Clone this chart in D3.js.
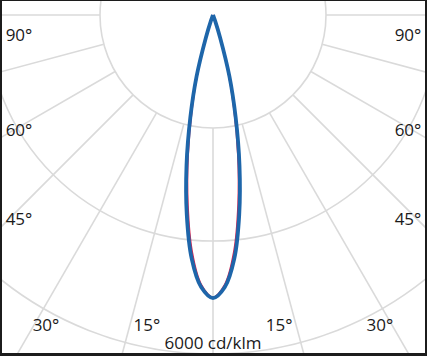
<!DOCTYPE html>
<html><head><meta charset="utf-8">
<script src="https://cdn.jsdelivr.net/npm/d3@7"></script>
<style>html,body{margin:0;padding:0;background:#fff;}svg{display:block;}</style>
</head><body>
<script>
// ---- data ----
const gammaAngles = [0, 2.5, 5, 7.5, 10, 12.5, 15, 17.5, 20, 22.5, 25, 30, 40, 50, 60, 70, 80, 90];
const planeC0C180 = [4990, 4770, 4210, 3390, 2530, 1710, 1010, 385, 95, 25, 8, 0, 0, 0, 0, 0, 0, 0];   // red
const planeC90C270 = [5010, 4820, 4330, 3560, 2700, 1850, 1120, 420, 110, 30, 10, 0, 0, 0, 0, 0, 0, 0]; // blue
const ringValues = [2000, 4000, 6000];
const spokeAngles = [0, 15, 30, 45, 60, 75, 90, 105, 120];
const labelAngles = [90, 60, 45, 30, 15];
const scaleLabel = "6000 cd/klm";

// ---- layout ----
const W = 427, H = 356;
const cx = 213, cy = 15;
const svg = d3.select("body").append("svg").attr("width", W).attr("height", H);
svg.append("rect").attr("width", W).attr("height", H).attr("fill", "#1c1c1c");
svg.append("defs").append("clipPath").attr("id", "clip")
  .append("rect").attr("x", 2).attr("y", 1).attr("width", 423).attr("height", 352);
svg.append("rect").attr("x", 2).attr("y", 1).attr("width", 423).attr("height", 352).attr("fill", "#fff");

const g = svg.append("g").attr("clip-path", "url(#clip)");
const plot = g.append("g").attr("transform", `translate(${cx},${cy})`);
const r = d3.scaleLinear().domain([0, 6000]).range([0, 339]);
const rad = d => d * Math.PI / 180;
const gridColor = "#dadada";

// rings
plot.selectAll("circle.ring").data(ringValues).join("circle")
  .attr("r", d => r(d)).attr("fill", "none").attr("stroke", gridColor).attr("stroke-width", 1.6);

// spokes (both sides), starting at the first ring
const spokes = [];
spokeAngles.forEach(a => { spokes.push(a); if (a !== 0) spokes.push(-a); });
plot.selectAll("line.spoke").data(spokes).join("line")
  .attr("x1", d => Math.sin(rad(d)) * r(ringValues[0]))
  .attr("y1", d => Math.cos(rad(d)) * r(ringValues[0]))
  .attr("x2", d => Math.sin(rad(d)) * r(12000))
  .attr("y2", d => Math.cos(rad(d)) * r(12000))
  .attr("stroke", gridColor).attr("stroke-width", 1.6);

// curves: left side (negative gamma) then right side
function fullCurve(vals) {
  const pts = [];
  for (let i = gammaAngles.length - 1; i > 0; i--) pts.push([-gammaAngles[i], vals[i]]);
  for (let i = 0; i < gammaAngles.length; i++) pts.push([gammaAngles[i], vals[i]]);
  return pts;
}
const line = d3.lineRadial()
  .angle(d => Math.PI - rad(d[0]))
  .radius(d => r(d[1]))
  .curve(d3.curveCatmullRom.alpha(0.5));

plot.append("path").datum(fullCurve(planeC0C180))
  .attr("d", line).attr("fill", "none").attr("stroke", "#d9234f").attr("stroke-width", 1.5);
plot.append("path").datum(fullCurve(planeC90C270))
  .attr("d", line).attr("fill", "none").attr("stroke", "#1e66aa").attr("stroke-width", 3.8)
  .attr("stroke-linejoin", "round");

// angle labels
const font = "'Open Sans', sans-serif";
const leftX = 19, rightX = W - 19, bottomY = 325;
labelAngles.forEach(a => {
  [-1, 1].forEach(side => {
    const t = rad(a);
    const dxEdge = cx - leftX;
    const yAtEdge = cy + dxEdge / Math.tan(t);
    let x, y;
    if (yAtEdge <= bottomY) {
      x = side < 0 ? leftX : rightX;
      y = Math.max(35, yAtEdge + (60 - a) / 2 + 3);
    } else {
      const xOff = (bottomY - cy) * Math.tan(t);
      x = cx + side * (xOff - 12 - (30 - a) / 3);
      y = bottomY;
    }
    g.append("text").attr("x", x).attr("y", y).attr("dy", "0.35em")
      .attr("text-anchor", "middle").attr("font-family", font).attr("font-size", 17)
      .attr("fill", "#1a1a1a").text(a + "°");
  });
});

g.append("text").attr("x", cx).attr("y", 343).attr("dy", "0.35em")
  .attr("text-anchor", "middle").attr("font-family", font).attr("font-size", 17)
  .attr("fill", "#1a1a1a").text(scaleLabel);
</script>
</body></html>
